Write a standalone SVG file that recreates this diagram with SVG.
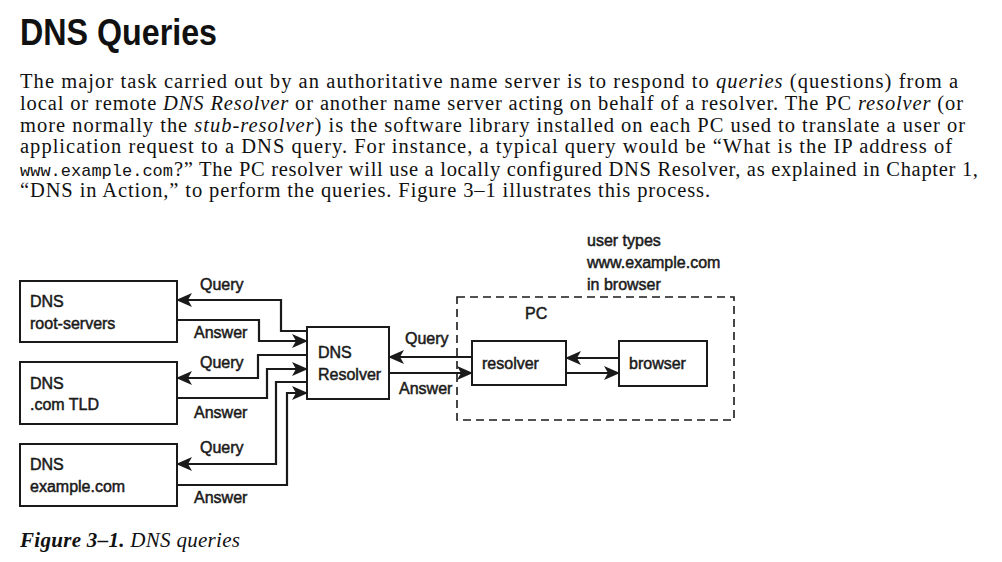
<svg xmlns="http://www.w3.org/2000/svg" width="1002" height="562" viewBox="0 0 1002 562">
<style>
.title{font-family:"Liberation Sans",Arial,sans-serif;font-weight:bold;font-size:37px;fill:#111}
.body{font-family:"Liberation Serif","Times New Roman",serif;font-size:20.5px;fill:#111}
.mono{font-family:"Liberation Mono","DejaVu Sans Mono",monospace;font-size:17px;fill:#111}
.it{font-style:italic}
.lbl{font-family:"Liberation Sans",Arial,sans-serif;font-size:16px;fill:#1a1a1a;stroke:#1a1a1a;stroke-width:0.5}
.box{fill:#fff;stroke:#1a1a1a;stroke-width:2}
.dash{fill:none;stroke:#1a1a1a;stroke-width:1.6;stroke-dasharray:8 5}
.wire{fill:none;stroke:#1a1a1a;stroke-width:2.2;marker-end:url(#ah)}
.cap{font-family:"Liberation Serif","Times New Roman",serif;font-size:21px;font-style:italic;fill:#111}
</style>
<defs>
<marker id="ah" viewBox="0 0 16 14" refX="15" refY="7" markerWidth="16" markerHeight="14" markerUnits="userSpaceOnUse" orient="auto">
<path d="M0,0 L16,7 L0,14 L4,7 Z" fill="#1a1a1a"/>
</marker>
</defs>
<rect x="0" y="0" width="1002" height="562" fill="#fff"/>

<text class="title" x="20" y="45" textLength="197" lengthAdjust="spacingAndGlyphs">DNS Queries</text>

<g id="body-text">
<text class="body" x="20" y="88" textLength="938" lengthAdjust="spacing">The major task carried out by an authoritative name server is to respond to <tspan class="it">queries</tspan> (questions) from a</text>
<text class="body" x="20" y="109.8" textLength="943" lengthAdjust="spacing">local or remote <tspan class="it">DNS Resolver</tspan> or another name server acting on behalf of a resolver. The PC <tspan class="it">resolver</tspan> (or</text>
<text class="body" x="20" y="131.6" textLength="945" lengthAdjust="spacing">more normally the <tspan class="it">stub-resolver</tspan>) is the software library installed on each PC used to translate a user or</text>
<text class="body" x="20" y="153.4" textLength="932" lengthAdjust="spacing">application request to a DNS query. For instance, a typical query would be “What is the IP address of</text>
<text class="mono" x="20" y="175.5">www.example.com</text>
<text class="body" x="174" y="175.5" textLength="804" lengthAdjust="spacing">?” The PC resolver will use a locally configured DNS Resolver, as explained in Chapter 1,</text>
<text class="body" x="20" y="197" textLength="690" lengthAdjust="spacing">“DNS in Action,” to perform the queries. Figure 3–1 illustrates this process.</text>
</g>

<g id="connectors">
<polyline class="wire" points="307,331 281,331 281,300 177,300"/>
<polyline class="wire" points="177,320 259,320 259,341 307,341"/>
<polyline class="wire" points="307,355 258,355 258,378 177,378"/>
<polyline class="wire" points="177,398 267,398 267,369 307,369"/>
<polyline class="wire" points="307,382 276,382 276,464 177,464"/>
<polyline class="wire" points="177,485 287,485 287,393 307,393"/>
<line class="wire" x1="472" y1="357" x2="389" y2="357"/>
<line class="wire" x1="389" y1="373" x2="472" y2="373"/>
<line class="wire" x1="619" y1="358" x2="566" y2="358"/>
<line class="wire" x1="566" y1="373" x2="619" y2="373"/>
<text class="lbl" x="200" y="290">Query</text>
<text class="lbl" x="194" y="338">Answer</text>
<text class="lbl" x="200" y="368">Query</text>
<text class="lbl" x="194" y="418">Answer</text>
<text class="lbl" x="200" y="453">Query</text>
<text class="lbl" x="194" y="502.5">Answer</text>
<text class="lbl" x="405" y="344">Query</text>
<text class="lbl" x="399" y="394">Answer</text>
</g>

<g id="root-servers">
<rect class="box" x="20" y="281" width="157" height="61"/>
<text class="lbl" x="30" y="307">DNS</text>
<text class="lbl" x="30" y="328.5">root-servers</text>
</g>
<g id="com-tld">
<rect class="box" x="20" y="362" width="157" height="62"/>
<text class="lbl" x="30" y="388.5">DNS</text>
<text class="lbl" x="30" y="409.5">.com TLD</text>
</g>
<g id="example-com">
<rect class="box" x="20" y="444" width="157" height="62"/>
<text class="lbl" x="30" y="470">DNS</text>
<text class="lbl" x="30" y="491.5">example.com</text>
</g>
<g id="dns-resolver">
<rect class="box" x="307" y="327" width="82" height="72"/>
<text class="lbl" x="318" y="358">DNS</text>
<text class="lbl" x="318" y="379.5">Resolver</text>
</g>
<g id="pc">
<rect class="dash" x="457" y="297" width="277" height="123"/>
<text class="lbl" x="525" y="318.5">PC</text>
</g>
<g id="pc-resolver">
<rect class="box" x="472" y="341" width="94" height="44"/>
<text class="lbl" x="482" y="368.5">resolver</text>
</g>
<g id="browser">
<rect class="box" x="619" y="341" width="88" height="45"/>
<text class="lbl" x="629" y="368.5">browser</text>
</g>
<g id="user-note">
<text class="lbl" x="587" y="245.5">user types</text>
<text class="lbl" x="587" y="267.5">www.example.com</text>
<text class="lbl" x="587" y="289.5">in browser</text>
</g>

<text class="cap" x="20" y="547" textLength="220" lengthAdjust="spacing"><tspan font-weight="bold">Figure 3–1.</tspan> DNS queries</text>
</svg>
